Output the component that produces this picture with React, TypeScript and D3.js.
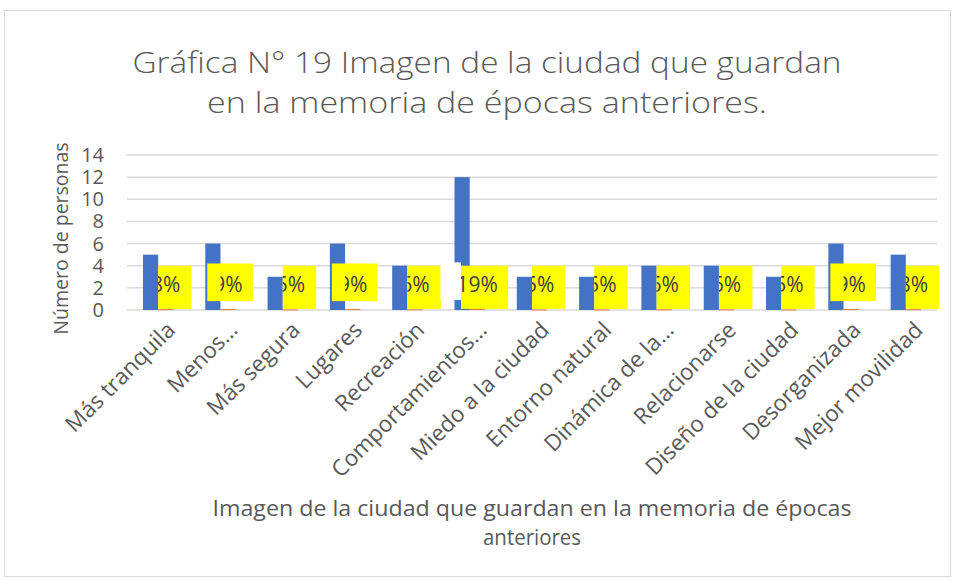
import { useEffect, useRef } from 'react';
import * as d3 from 'd3';

// datos
const categories = [
  'Más tranquila',
  'Menos…',
  'Más segura',
  'Lugares',
  'Recreación',
  'Comportamientos…',
  'Miedo a la ciudad',
  'Entorno natural',
  'Dinámica de la…',
  'Relacionarse',
  'Diseño de la ciudad',
  'Desorganizada',
  'Mejor movilidad',
];
const personas = [5, 6, 3, 6, 4, 12, 3, 3, 4, 4, 3, 6, 5];
const porcentaje = [0.08, 0.09, 0.05, 0.09, 0.06, 0.19, 0.05, 0.05, 0.06, 0.06, 0.05, 0.09, 0.08];
const yTicks = [0, 2, 4, 6, 8, 10, 12, 14];
const titleLines = ['Gráfica N° 19 Imagen de la ciudad que guardan', 'en la memoria de épocas anteriores.'];
const xTitleLines = ['Imagen de la ciudad que guardan en la memoria de épocas', 'anteriores'];
const yTitle = 'Número de personas';

// how each yellow label box sits (style only)
const labelPlacement = ['side', 'raised', 'side', 'raised', 'side', 'covered', 'side', 'side', 'side', 'side', 'side', 'raised', 'side'];

const W = 955;
const H = 580;
const FONT = '"Open Sans", "Noto Sans", sans-serif';
const TEXT = '#595959';
const GRID = '#d9d9d9';

export default function App() {
  const svgRef = useRef<SVGSVGElement>(null);

  useEffect(() => {
    document.body.style.margin = '0';
    const svg = d3.select(svgRef.current);
    svg.selectAll('*').remove();

    const left = 127;
    const right = 937;
    const top = 155;
    const bottom = 310;

    const x0 = d3.scaleBand<string>().domain(categories).range([left, right]).padding(0);
    const x1 = d3.scaleBand<string>().domain(['count', 'pct']).range([0, x0.bandwidth()]).paddingInner(0).paddingOuter(1.05);
    const y = d3.scaleLinear().domain([0, 14]).range([bottom, top]);

    // chart frame
    svg.append('rect').attr('x', 4.5).attr('y', 10.5).attr('width', 946).attr('height', 566)
      .attr('fill', '#fff').attr('stroke', GRID);

    // title (Calibri Light is narrower, so stretch to the original width)
    const titleWidths = [709, 560];
    svg.append('g').selectAll('text').data(titleLines).join('text')
      .attr('x', 487).attr('y', (d, i) => 73 + i * 40)
      .attr('text-anchor', 'middle').attr('font-family', FONT).attr('font-size', 30)
      .attr('font-weight', 300).attr('fill', TEXT)
      .attr('textLength', (d, i) => titleWidths[i]).attr('lengthAdjust', 'spacingAndGlyphs')
      .text((d) => d);

    // gridlines
    svg.append('g').selectAll('line').data(yTicks).join('line')
      .attr('x1', left).attr('x2', right)
      .attr('y1', (d) => y(d)).attr('y2', (d) => y(d))
      .attr('stroke', GRID).attr('stroke-width', 1.5);

    // y tick labels
    svg.append('g').selectAll('text').data(yTicks).join('text')
      .attr('x', 104).attr('y', (d) => y(d) + 7)
      .attr('text-anchor', 'end').attr('font-family', FONT).attr('font-size', 20)
      .attr('fill', TEXT).text((d) => d);

    // y title
    svg.append('text')
      .attr('transform', `translate(68,${(top + bottom) / 2 + 6}) rotate(-90)`)
      .attr('text-anchor', 'middle').attr('font-family', FONT).attr('font-size', 19.5)
      .attr('fill', TEXT)
      .text(yTitle);

    const bw = x1.bandwidth();
    const defs = svg.append('defs');

    // bars + labels per category
    const barsG = svg.append('g');
    const labelsG = svg.append('g');
    categories.forEach((cat, i) => {
      const bx = (x0(cat) ?? 0) + (x1('count') ?? 0);
      const ox = (x0(cat) ?? 0) + (x1('pct') ?? 0);
      const ocx = ox + bw / 2;
      const place = labelPlacement[i];

      barsG.append('rect').attr('x', bx).attr('y', y(personas[i]))
        .attr('width', bw).attr('height', y(0) - y(personas[i])).attr('fill', '#4472C4');
      barsG.append('rect').attr('x', ox).attr('y', y(porcentaje[i]))
        .attr('width', bw).attr('height', Math.max(1, y(0) - y(porcentaje[i]))).attr('fill', '#ED7D31');

      const g = labelsG.append('g');
      let ry0 = y(4);
      let ry1 = y(0.1);
      let rx = ox;
      let rw = bw * 2.2;
      if (place === 'raised') {
        ry0 = y(4.2);
        ry1 = y(0.8);
        rx = bx + 2;
        rw = bw * 3;
      } else if (place === 'covered') {
        rx = bx + 6.5;
        rw = bw * 3.1;
        g.append('rect').attr('x', bx - 14).attr('y', y(4.3))
          .attr('width', rx - (bx - 14)).attr('height', y(0.9) - y(4.3)).attr('fill', '#fff');
      }
      g.append('rect').attr('x', rx).attr('y', ry0).attr('width', rw).attr('height', ry1 - ry0)
        .attr('fill', '#FFFF00');

      const clipId = `clip-${i}`;
      const cx = place === 'covered' ? rx : ox;
      defs.append('clipPath').attr('id', clipId).append('rect')
        .attr('x', cx).attr('y', ry0 - 5).attr('width', 80).attr('height', ry1 - ry0 + 10);
      g.append('text')
        .attr('x', ocx).attr('y', y(0) - 18)
        .attr('clip-path', `url(#${clipId})`)
        .attr('text-anchor', 'middle').attr('font-family', FONT).attr('font-size', 21)
        .attr('fill', '#404040').text(`${Math.round(porcentaje[i] * 100)}%`);
    });

    // x category labels, rotated
    svg.append('g').selectAll('text').data(categories).join('text')
      .attr('transform', (d) => `translate(${(x0(d) ?? 0) + x0.bandwidth() / 2 + 7},${bottom + 10}) rotate(-45)`)
      .attr('text-anchor', 'end').attr('dy', '0.72em')
      .attr('font-family', FONT).attr('font-size', 22.5).attr('fill', TEXT).text((d) => d);

    // x title
    const xTitleWidths = [639, 98];
    svg.append('g').selectAll('text').data(xTitleLines).join('text')
      .attr('x', (left + right) / 2).attr('y', (d, i) => 516 + i * 29)
      .attr('text-anchor', 'middle').attr('font-family', FONT).attr('font-size', 21)
      .attr('fill', TEXT).attr('textLength', (d, i) => xTitleWidths[i]).attr('lengthAdjust', 'spacingAndGlyphs')
      .text((d) => d);
  }, []);

  return <svg ref={svgRef} width={W} height={H} style={{ display: 'block' }}></svg>;
}
